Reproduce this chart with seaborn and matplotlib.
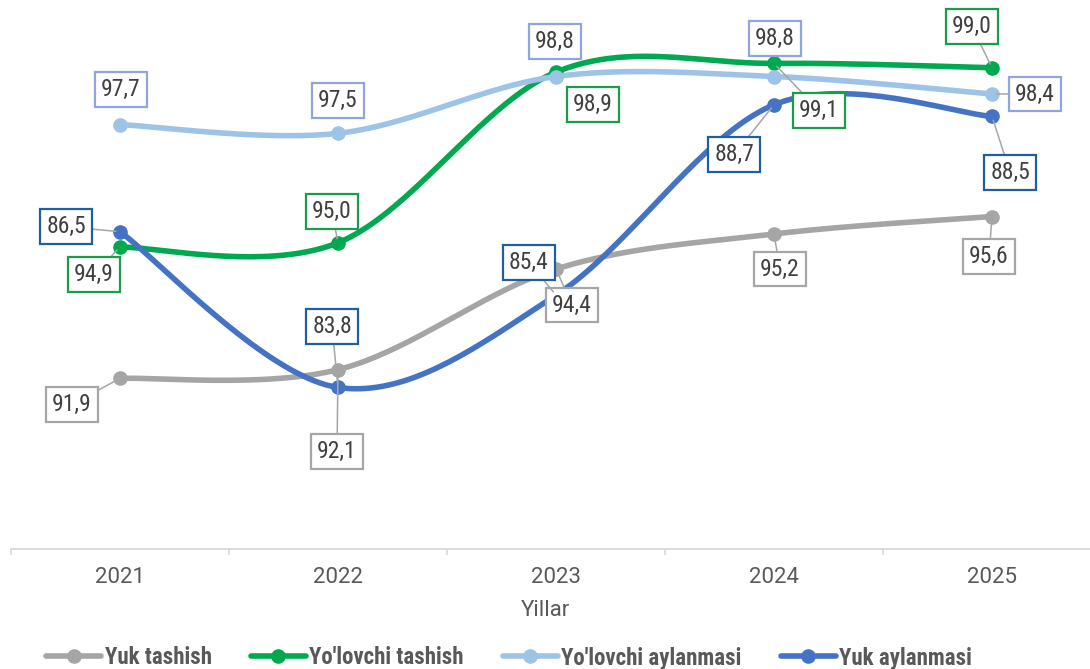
import numpy as np
import pandas as pd
import matplotlib
matplotlib.use("Agg")
import matplotlib.pyplot as plt
from matplotlib.lines import Line2D
import seaborn as sns

# data
years = ["2021", "2022", "2023", "2024", "2025"]
yuk_tashish = [91.9, 92.1, 94.4, 95.2, 95.6]
yolovchi_tashish = [94.9, 95.0, 98.9, 99.1, 99.0]
yolovchi_aylanmasi = [97.7, 97.5, 98.8, 98.8, 98.4]
yuk_aylanmasi = [86.5, 83.8, 85.4, 88.7, 88.5]   # on the hidden right axis

names = ["Yuk tashish", "Yo'lovchi tashish", "Yo'lovchi aylanmasi", "Yuk aylanmasi"]
colors = ["#a5a5a5", "#00a84f", "#9dc3e6", "#4472c4"]
box_edges = ["#a6a6a6", "#1a9c4a", "#8fa6dc", "#1f5f9f"]

# label box offsets in pixels (dx, dy) from each marker, and whether a leader line shows
offsets = [
    [(-48, -26), (-1, -82), (16, -36), (6, -35), (-3, -40)],
    [(-26, -27), (-6, 31), (37, -32), (45, -47), (-20, 41)],
    [(1, 35), (0, 33), (-1, 35), (1, 38), (43, 0)],
    [(-54, 5), (-6, 61), (-27, 33), (-40, -50), (18, -56)],
]
leaders = [
    [1, 1, 1, 1, 1],
    [1, 1, 0, 1, 1],
    [0, 0, 0, 0, 1],
    [1, 1, 1, 1, 1],
]


def smooth(y, n=40):
    # excel-like smoothed line (catmull-rom as bezier)
    p = np.column_stack([np.arange(len(y)), y]).astype(float)
    pts = np.vstack([p[0], p, p[-1]])
    t = np.linspace(0, 1, n)[:, None]
    out = []
    for i in range(len(p) - 1):
        p0, p1, p2, p3 = pts[i], pts[i + 1], pts[i + 2], pts[i + 3]
        c1 = p1 + (p2 - p0) / 6
        c2 = p2 - (p3 - p1) / 6
        seg = (1 - t) ** 3 * p1 + 3 * (1 - t) ** 2 * t * c1 + 3 * (1 - t) * t ** 2 * c2 + t ** 3 * p2
        out.append(seg if i == 0 else seg[1:])
    return np.vstack(out)


sns.set_theme(style="white")
plt.rcParams["font.family"] = ["Roboto", "DejaVu Sans"]
narrow = ["Roboto Condensed", "Liberation Sans Narrow", "Roboto", "DejaVu Sans"]

fig = plt.figure(figsize=(10.9, 6.69), dpi=100)
ax = fig.add_axes([11 / 1090, 120 / 669, 1.0, 525 / 669])
ax2 = ax.twinx()

series = [yuk_tashish, yolovchi_tashish, yolovchi_aylanmasi, yuk_aylanmasi]
axes_for = [ax, ax, ax, ax2]
x = np.arange(len(years))

for vals, c, a in zip(series, colors, axes_for):
    curve = smooth(vals)
    df = pd.DataFrame({"x": curve[:, 0], "y": curve[:, 1]})
    sns.lineplot(data=df, x="x", y="y", ax=a, color=c, lw=4, sort=False, estimator=None)
    a.plot(x, vals, "o", color=c, ms=9.5)

ax.set_ylim(88, 100)
ax2.set_ylim(81, 90.1)
ax.set_xlim(-0.5, 4.5)

# labels with boxes, all on top of the lines
for k, (vals, a) in enumerate(zip(series, axes_for)):
    for i, v in enumerate(vals):
        arrow = None
        if leaders[k][i]:
            arrow = dict(arrowstyle="-", color="#a6a6a6", lw=1.1, shrinkA=0, shrinkB=3)
        ax2.annotate(f"{v:.1f}".replace(".", ","), xy=(i, v), xycoords=a.transData,
                     xytext=offsets[k][i], textcoords="offset pixels",
                     ha="center", va="center", fontsize=17, color="#404040", family=narrow,
                     bbox=dict(boxstyle="square,pad=0.25", fc="white", ec=box_edges[k], lw=1.6),
                     arrowprops=arrow, zorder=10)

for a in (ax, ax2):
    for s in ["left", "right", "top", "bottom"]:
        a.spines[s].set_visible(False)
    a.set_yticks([])
    a.set_ylabel("")
ax2.set_xlabel("")

ax.spines["bottom"].set_visible(True)
ax.spines["bottom"].set_color("#d9d9d9")
ax.spines["bottom"].set_linewidth(1.3)
ax.set_xticks(np.arange(-0.5, 5, 1))
ax.set_xticklabels([])
ax.tick_params(axis="x", which="major", bottom=True, length=4, width=1.2, color="#d9d9d9")
ax.set_xticks(x, minor=True)
ax.set_xticklabels(years, minor=True)
ax.tick_params(axis="x", which="minor", length=0, pad=13, labelsize=16, labelcolor="#595959")
ax.set_xlabel("Yillar", fontsize=16, color="#595959")
ax.xaxis.set_label_coords(0.49, -0.097)

handles = [Line2D([0], [0], color=c, lw=4, marker="o", ms=9.5) for c in colors]
leg = fig.legend(handles, names, loc="center left", bbox_to_anchor=(35 / 1090, 1 - 658 / 669),
                 ncol=4, frameon=False, borderpad=0, handlelength=2.4, handletextpad=0.15,
                 columnspacing=1.7,
                 prop={"family": narrow, "weight": "bold", "size": 16.5})
for t in leg.get_texts():
    t.set_color("#595959")

fig.savefig("out.png", dpi=100)
